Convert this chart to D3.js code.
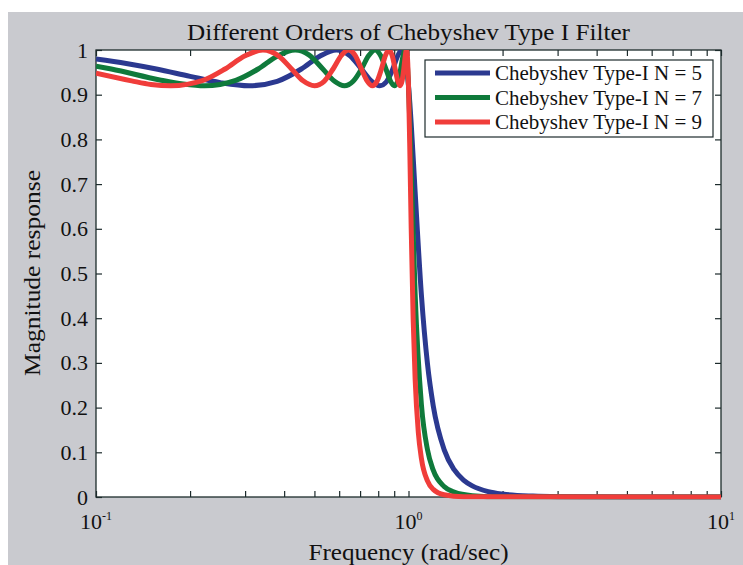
<!DOCTYPE html>
<html>
<head>
<meta charset="utf-8">
<script src="https://cdn.jsdelivr.net/npm/d3@7"></script>
<style>
  body { margin: 0; background: #fff; }
  text { font-family: "Liberation Serif", "Times New Roman", serif; fill: #111; }
</style>
</head>
<body>
<div id="root"></div>
<script>
// values (frequency in rad/sec, magnitude)
const freq5 = [0.1, 0.125, 0.156, 0.2, 0.25, 0.309, 0.38, 0.454, 0.52, 0.588,
  0.65, 0.707, 0.76, 0.809, 0.85, 0.891, 0.921, 0.951, 0.97, 0.988,
  1.0, 1.01, 1.02, 1.05, 1.1, 1.15, 1.2, 1.3, 1.4, 1.5,
  1.6, 1.8, 2.0, 2.5, 3, 5, 10]
const mag5 = [0.980, 0.970, 0.9575, 0.941, 0.927, 0.920, 0.930, 0.9575, 0.986, 1.0,
  0.987, 0.9575, 0.931, 0.920, 0.929, 0.9575, 0.985, 1.0, 0.990, 0.9575,
  0.920, 0.881, 0.836, 0.683, 0.451, 0.298, 0.204, 0.106, 0.061, 0.038,
  0.025, 0.012, 0.0065, 0.002, 0.0008, 0.0001, 0]

const freq7 = [0.1, 0.112, 0.16, 0.19, 0.2225, 0.28, 0.3303, 0.38, 0.4339, 0.48,
  0.532, 0.58, 0.6235, 0.665, 0.7071, 0.745, 0.7818, 0.815, 0.8467, 0.875,
  0.901, 0.923, 0.9439, 0.96, 0.9749, 0.985, 0.9937, 1.0, 1.01, 1.02,
  1.05, 1.1, 1.15, 1.2, 1.3, 1.4, 1.6, 2, 10]
const mag7 = [0.964, 0.9575, 0.933, 0.924, 0.920, 0.932, 0.9575, 0.986, 1.0, 0.989,
  0.9575, 0.930, 0.920, 0.930, 0.9575, 0.987, 1.0, 0.987, 0.9575, 0.931,
  0.920, 0.930, 0.9575, 0.986, 1.0, 0.989, 0.9575, 0.920, 0.837, 0.737,
  0.455, 0.206, 0.106, 0.060, 0.0235, 0.0109, 0.003, 0.0003, 0]

const freq9 = [0.1, 0.13, 0.15, 0.1736, 0.22, 0.2588, 0.3, 0.342, 0.385, 0.4226,
  0.46, 0.5, 0.537, 0.5736, 0.61, 0.6428, 0.675, 0.7071, 0.737, 0.766,
  0.793, 0.8192, 0.843, 0.866, 0.887, 0.9063, 0.924, 0.9397, 0.954, 0.9659,
  0.976, 0.9848, 0.991, 0.9962, 1.0, 1.01, 1.02, 1.035, 1.05, 1.075,
  1.1, 1.15, 1.2, 1.3, 1.5, 10]
const mag9 = [0.948, 0.931, 0.923, 0.920, 0.932, 0.9575, 0.987, 1.0, 0.986, 0.9575,
  0.931, 0.920, 0.930, 0.9575, 0.988, 1.0, 0.988, 0.9575, 0.931, 0.920,
  0.930, 0.9575, 0.987, 1.0, 0.987, 0.9575, 0.931, 0.920, 0.931, 0.9575,
  0.986, 1.0, 0.989, 0.9575, 0.920, 0.773, 0.603, 0.398, 0.265, 0.145,
  0.086, 0.036, 0.017, 0.005, 0.0005, 0]

const seriesNames = ["Chebyshev Type-I N = 5", "Chebyshev Type-I N = 7", "Chebyshev Type-I N = 9"]
const yTicks = [0, 0.1, 0.2, 0.3, 0.4, 0.5, 0.6, 0.7, 0.8, 0.9, 1]
const yTickLabels = ["0", "0.1", "0.2", "0.3", "0.4", "0.5", "0.6", "0.7", "0.8", "0.9", "1"]
const xMajor = [0.1, 1, 10]
const xMajorExp = ["-1", "0", "1"]

const colors = ["#2b3990", "#0f7a3b", "#f03d3a"]

const width = 743, height = 565
const margin = { top: 50, right: 22, bottom: 68, left: 96 }
const boundedWidth = width - margin.left - margin.right
const boundedHeight = height - margin.top - margin.bottom
const axisColor = "#1d2b2c"

const svg = d3.select("#root").append("svg")
  .attr("width", width)
  .attr("height", height)

// grey figure background
svg.append("rect")
  .attr("x", 8).attr("y", 12)
  .attr("width", width - 8).attr("height", height - 12)
  .attr("fill", "#c9cacf")

svg.append("text")
  .attr("x", margin.left + boundedWidth / 2)
  .attr("y", 40)
  .attr("text-anchor", "middle")
  .attr("textLength", 443)
  .attr("lengthAdjust", "spacingAndGlyphs")
  .style("font-size", "24px")
  .text("Different Orders of Chebyshev Type I Filter")

const bounds = svg.append("g")
  .attr("transform", `translate(${margin.left},${margin.top})`)

bounds.append("rect")
  .attr("width", boundedWidth).attr("height", boundedHeight)
  .attr("fill", "#fff")

const xScale = d3.scaleLog().domain([0.1, 10]).range([0, boundedWidth])
const yScale = d3.scaleLinear().domain([0, 1]).range([boundedHeight, 0])

// axes, ticks pointing inward
const styleAxis = g => {
  g.select(".domain").remove()
  g.selectAll(".tick line").attr("stroke", axisColor).attr("stroke-width", 1.2)
  g.selectAll(".tick text").style("font-size", "22px").attr("fill", "#111")
}

bounds.append("g")
  .call(d3.axisLeft(yScale).tickValues(yTicks)
    .tickFormat((d, i) => yTickLabels[i])
    .tickSizeInner(-6).tickSizeOuter(0).tickPadding(8))
  .call(styleAxis)
  .attr("font-family", null)

bounds.append("g")
  .attr("transform", `translate(${boundedWidth},0)`)
  .call(d3.axisRight(yScale).tickValues(yTicks).tickFormat("").tickSizeInner(-6).tickSizeOuter(0))
  .call(styleAxis)

bounds.append("g")
  .attr("transform", `translate(0,${boundedHeight})`)
  .call(d3.axisBottom(xScale).tickValues(xScale.ticks()).tickFormat("").tickSizeInner(-6).tickSizeOuter(0))
  .call(styleAxis)

bounds.append("g")
  .call(d3.axisTop(xScale).tickValues(xScale.ticks()).tickFormat("").tickSizeInner(-6).tickSizeOuter(0))
  .call(styleAxis)

bounds.append("rect")
  .attr("width", boundedWidth).attr("height", boundedHeight)
  .attr("fill", "none")
  .attr("stroke", axisColor)
  .attr("stroke-width", 1.3)

// x major labels 10^n
const xLab = bounds.selectAll(".xlab")
  .data(xMajor)
  .join("text")
  .attr("class", "xlab")
  .attr("x", d => xScale(d))
  .attr("y", boundedHeight + 32)
  .attr("text-anchor", "middle")
  .style("font-size", "22px")
xLab.append("tspan").text("10")
xLab.append("tspan")
  .attr("dy", -9)
  .style("font-size", "12px")
  .text((d, i) => xMajorExp[i])

bounds.append("text")
  .attr("x", boundedWidth / 2)
  .attr("y", boundedHeight + 63)
  .attr("text-anchor", "middle")
  .attr("textLength", 200)
  .attr("lengthAdjust", "spacingAndGlyphs")
  .style("font-size", "23px")
  .text("Frequency (rad/sec)")

bounds.append("text")
  .attr("transform", `translate(${40 - margin.left},${273 - margin.top}) rotate(-90)`)
  .attr("text-anchor", "middle")
  .attr("textLength", 206)
  .attr("lengthAdjust", "spacingAndGlyphs")
  .style("font-size", "23px")
  .text("Magnitude response")

// curves
bounds.append("clipPath").attr("id", "plot-clip")
  .append("rect")
  .attr("width", boundedWidth).attr("height", boundedHeight + 2.5)

const series = [
  { name: seriesNames[0], color: colors[0], values: d3.zip(freq5, mag5) },
  { name: seriesNames[1], color: colors[1], values: d3.zip(freq7, mag7) },
  { name: seriesNames[2], color: colors[2], values: d3.zip(freq9, mag9) },
]

const lineGenerator = d3.line()
  .x(d => xScale(d[0]))
  .y(d => yScale(d[1]))
  .curve(d3.curveMonotoneX)

bounds.append("g")
  .attr("clip-path", "url(#plot-clip)")
  .selectAll("path")
  .data(series)
  .join("path")
  .attr("d", d => lineGenerator(d.values))
  .attr("fill", "none")
  .attr("stroke", d => d.color)
  .attr("stroke-width", 5)
  .attr("stroke-linejoin", "round")

// legend
const legend = svg.append("g").attr("transform", "translate(425,60)")
legend.append("rect")
  .attr("width", 288).attr("height", 77)
  .attr("fill", "#fff")
  .attr("stroke", axisColor)
  .attr("stroke-width", 1.2)

const rows = legend.selectAll(".row")
  .data(series)
  .join("g")
  .attr("class", "row")
  .attr("transform", (d, i) => `translate(0,${13 + i * 24.5})`)
rows.append("line")
  .attr("x1", 10).attr("x2", 65)
  .attr("stroke", d => d.color)
  .attr("stroke-width", 5)
rows.append("text")
  .attr("x", 70)
  .attr("dy", "0.35em")
  .style("font-size", "21px")
  .text(d => d.name)
</script>
</body>
</html>
